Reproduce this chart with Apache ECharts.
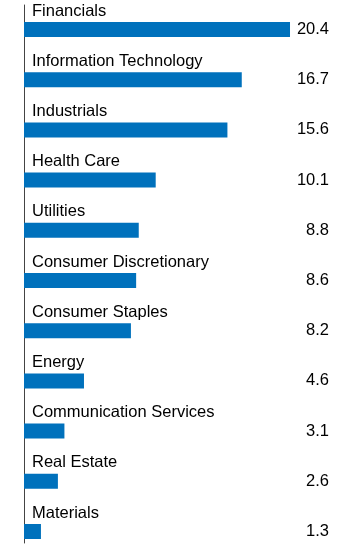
<!DOCTYPE html>
<html><head><meta charset="utf-8">
<script src="https://cdn.jsdelivr.net/npm/echarts@6/dist/echarts.min.js"></script>
<style>html,body{margin:0;padding:0;background:#fff}#c{width:354px;height:547px}</style>
</head><body><div id="c"></div>
<script>
const categories = ["Financials","Information Technology","Industrials","Health Care","Utilities","Consumer Discretionary","Consumer Staples","Energy","Communication Services","Real Estate","Materials"];
const values = [20.4,16.7,15.6,10.1,8.8,8.6,8.2,4.6,3.1,2.6,1.3];
const valueLabels = ["20.4","16.7","15.6","10.1","8.8","8.6","8.2","4.6","3.1","2.6","1.3"];

const chart = echarts.init(document.getElementById('c'), null, {renderer:'canvas'});
const font = "Liberation Sans, Arial, sans-serif";
chart.setOption({
  animation:false,
  grid:[
    {left:24, right:25, top:4.4, height:552.2, outerBoundsMode:'none', containLabel:false},
    {left:24, right:25, top:5, height:538, outerBoundsMode:'none', containLabel:false}
  ],
  xAxis:[
    {gridIndex:0, type:'value', min:0, max:23.39, show:false},
    {gridIndex:1, type:'value', min:0, max:1, show:false}
  ],
  yAxis:[
    {gridIndex:0, type:'category', data:categories, inverse:true, show:false},
    {gridIndex:0, type:'category', data:valueLabels, inverse:true, position:'right',
     axisLine:{show:false}, axisTick:{show:false}, splitLine:{show:false},
     axisLabel:{inside:true, margin:0, color:'#000', fontSize:16.5, fontFamily:font, padding:[5,0,0,0]}},
    {gridIndex:1, type:'value', min:0, max:1, position:'left',
     axisLine:{show:true, lineStyle:{color:'#444', width:1}}, axisTick:{show:false},
     axisLabel:{show:false}, splitLine:{show:false}}
  ],
  series:[{
    type:'bar', xAxisIndex:0, yAxisIndex:0, data:values, barWidth:15,
    itemStyle:{color:'#0071BC'},
    label:{show:true, formatter:'{b}', position:[8,-11], align:'left', verticalAlign:'middle',
      color:'#000', fontSize:16.5, fontFamily:font}
  }]
});
</script></body></html>
